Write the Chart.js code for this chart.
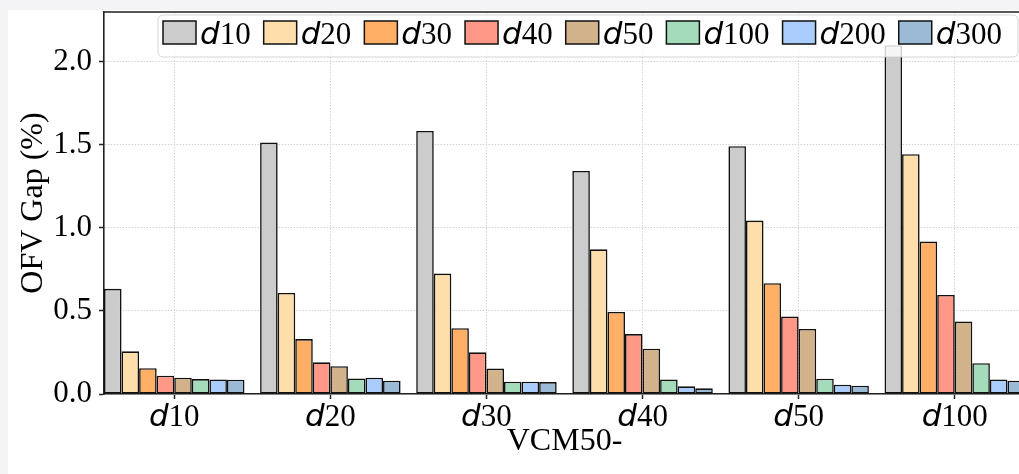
<!DOCTYPE html>
<html>
<head>
<meta charset="utf-8">
<script src="https://cdn.jsdelivr.net/npm/chart.js@4.4.1/dist/chart.umd.min.js"></script>
<style>
html, body { margin: 0; padding: 0; overflow: hidden; background: #f4f4f6; }
#panel { position: absolute; left: 8px; top: 10px; width: 1100px; height: 480px; background: #fff; }
#wrap { position: absolute; left: 0; top: 0; width: 1045px; height: 474px; }
</style>
</head>
<body>
<div id="panel"></div>
<div id="wrap"><canvas id="gapChart" width="1045" height="474"></canvas></div>
<script>
// groups on the x axis (drawn as italic d + number)
var groupNums = ['10', '20', '30', '40', '50', '100'];
// one series per legend entry
var seriesNums = ['10', '20', '30', '40', '50', '100', '200', '300'];
var seriesColors = ['#cccccc', '#fedfab', '#ffb066', '#ff9887', '#d2b28b', '#a4dbbb', '#aacdfd', '#9bbad5'];

var d10  = [0.633, 1.514, 1.584, 1.343, 1.492, 2.100];
var d20  = [0.257, 0.608, 0.725, 0.871, 1.044, 1.444];
var d30  = [0.155, 0.331, 0.396, 0.494, 0.667, 0.918];
var d40  = [0.110, 0.191, 0.251, 0.361, 0.466, 0.596];
var d50  = [0.098, 0.167, 0.153, 0.273, 0.392, 0.436];
var d100 = [0.090, 0.094, 0.074, 0.088, 0.092, 0.185];
var d200 = [0.088, 0.098, 0.074, 0.046, 0.056, 0.088];
var d300 = [0.086, 0.080, 0.072, 0.034, 0.050, 0.080];
var seriesValues = [d10, d20, d30, d40, d50, d100, d200, d300];

var yTicks = [0, 0.5, 1.0, 1.5, 2.0];

var MATH = "italic 31px 'DejaVu Sans'";
var SERIF = "31px 'Liberation Serif'";

// italic d followed by an upright number, like the matplotlib mathtext labels
function drawDLabel(ctx, num, x, y, align) {
  ctx.font = MATH;
  var wd = ctx.measureText('d').width;
  ctx.font = SERIF;
  var wn = ctx.measureText(num).width;
  var start = align === 'center' ? x - (wd + wn) / 2 : x;
  ctx.fillStyle = '#000';
  ctx.textAlign = 'left';
  ctx.textBaseline = 'alphabetic';
  ctx.font = MATH;
  ctx.fillText('d', start, y);
  ctx.font = SERIF;
  ctx.fillText(num, start + wd, y);
  return start + wd + wn;
}

var extras = {
  id: 'extras',
  afterDraw: function(chart) {
    var ctx = chart.ctx, area = chart.chartArea, xs = chart.scales.x;
    ctx.save();
    // top and right spines
    ctx.strokeStyle = '#222';
    ctx.lineWidth = 1.5;
    ctx.beginPath();
    ctx.moveTo(area.left, area.top);
    ctx.lineTo(area.right, area.top);
    ctx.lineTo(area.right, area.bottom);
    ctx.stroke();

    // x tick labels
    groupNums.forEach(function(num, i) {
      drawDLabel(ctx, num, xs.getPixelForValue(i), 426, 'center');
    });

    // legend
    var bx = 158, by = 15, bw = 860, bh = 42;
    ctx.fillStyle = 'rgba(255,255,255,0.8)';
    ctx.strokeStyle = 'rgba(204,204,204,0.8)';
    ctx.lineWidth = 1;
    ctx.beginPath();
    ctx.roundRect(bx, by, bw, bh, 5);
    ctx.fill();
    ctx.stroke();
    var x = 163;
    seriesNums.forEach(function(num, i) {
      ctx.fillStyle = seriesColors[i];
      ctx.fillRect(x, 21, 33, 23);
      ctx.strokeStyle = '#111';
      ctx.lineWidth = 1.5;
      ctx.strokeRect(x, 21, 33, 23);
      var end = drawDLabel(ctx, num, x + 37, 44, 'left');
      x = end + 13;
    });
    ctx.restore();
  }
};

var datasets = seriesNums.map(function(num, i) {
  return {
    label: 'd' + num,
    data: seriesValues[i].map(function(v, j) { return { x: j, y: v }; }),
    backgroundColor: seriesColors[i],
    borderColor: '#111',
    borderWidth: 1.6,
    borderSkipped: false,
    categoryPercentage: 0.9,
    barPercentage: 1.0
  };
});

new Chart(document.getElementById('gapChart').getContext('2d'), {
  type: 'bar',
  data: { datasets: datasets },
  options: {
    responsive: false,
    animation: false,
    layout: { padding: { left: 0, top: 12, right: 20, bottom: 0 } },
    plugins: { legend: { display: false }, tooltip: { enabled: false } },
    scales: {
      x: {
        type: 'linear',
        offset: false,
        min: -0.45,
        max: 5.45,
        afterBuildTicks: function(s) { s.ticks = groupNums.map(function(g, i) { return { value: i }; }); },
        afterFit: function(s) { s.height = 80; s.paddingLeft = 0; s.paddingRight = 0; },
        ticks: { display: false },
        grid: { offset: false, color: '#d2d2d2', lineWidth: 1, tickColor: '#222', tickLength: 5, tickWidth: 1.5, tickBorderDash: [] },
        border: { color: '#222', width: 1.6, dash: [1.5, 1.5] },
        title: { display: true, text: 'VCM50-', color: '#000', font: { family: 'Liberation Serif', size: 32 }, padding: { top: 0, bottom: 13 } }
      },
      y: {
        min: 0,
        max: 2.3,
        afterBuildTicks: function(s) { s.ticks = yTicks.map(function(v) { return { value: v }; }); },
        afterFit: function(s) { s.width = 104; s.paddingTop = 0; s.paddingBottom = 0; },
        ticks: { color: '#000', font: { family: 'Liberation Serif', size: 31 }, padding: 7, callback: function(v) { return v.toFixed(1); } },
        grid: { color: '#d2d2d2', lineWidth: 1, tickColor: '#222', tickLength: 5, tickWidth: 1.5, tickBorderDash: [] },
        border: { color: '#222', width: 1.6, dash: [1.5, 1.5] },
        title: { display: true, text: 'OFV Gap (%)', color: '#000', font: { family: 'Liberation Serif', size: 32 }, padding: { top: 14, bottom: 0 } }
      }
    }
  },
  plugins: [extras]
});
</script>
</body>
</html>
